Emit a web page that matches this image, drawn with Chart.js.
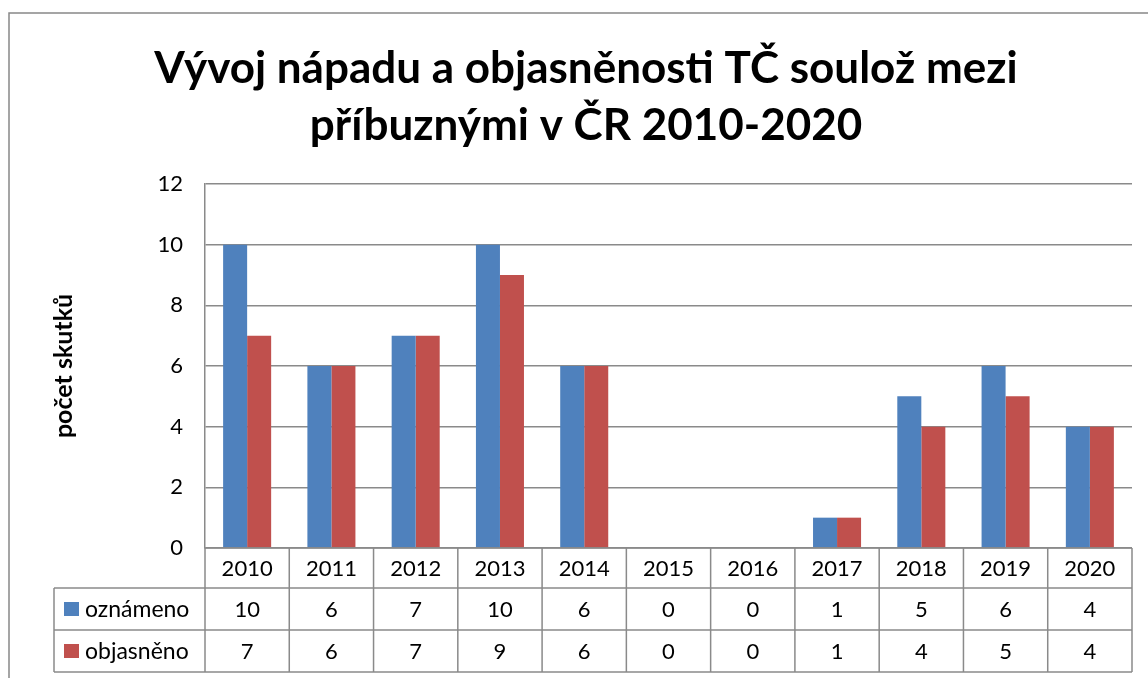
<!DOCTYPE html>
<html>
<head>
<meta charset="utf-8">
<script src="https://cdn.jsdelivr.net/npm/chart.js@4"></script>
<style>
  html, body { margin: 0; padding: 0; background: #fff; }
  canvas { display: block; }
</style>
</head>
<body>
<canvas id="chart" width="1148" height="678"></canvas>
<script>
// data
const categories = ['2010', '2011', '2012', '2013', '2014', '2015', '2016', '2017', '2018', '2019', '2020'];
const oznameno = [10, 6, 7, 10, 6, 0, 0, 1, 5, 6, 4];
const objasneno = [7, 6, 7, 9, 6, 0, 0, 1, 4, 5, 4];
const seriesNames = ['oznámeno', 'objasněno'];
const titleLines = ['Vývoj nápadu a objasněnosti TČ soulož mezi', 'příbuznými v ČR 2010-2020'];
const yAxisTitle = 'počet skutků';

const FONT = 'Lato';
const gridColor = '#8a8a8a';
const colors = ['#4F81BD', '#C0504D'];

// data table under the plot, columns follow the x scale
const dataTable = {
  id: 'dataTable',
  afterDraw(chart) {
    const { ctx, chartArea: a, scales: { x } } = chart;
    const step = x.width / categories.length;
    const top = a.bottom;
    const rows = [top, top + 40, top + 82, top + 124];
    const tableLeft = 54;
    ctx.save();
    ctx.strokeStyle = gridColor;
    ctx.lineWidth = 1.5;
    ctx.beginPath();
    ctx.moveTo(a.left, rows[0]); ctx.lineTo(a.right, rows[0]);
    for (let r = 1; r < rows.length; r++) {
      ctx.moveTo(tableLeft, rows[r]); ctx.lineTo(a.right, rows[r]);
    }
    for (let i = 0; i <= categories.length; i++) {
      const px = a.left + i * step;
      ctx.moveTo(px, rows[0]); ctx.lineTo(px, rows[3]);
    }
    ctx.moveTo(tableLeft, rows[1]); ctx.lineTo(tableLeft, rows[3]);
    ctx.stroke();

    ctx.fillStyle = '#000';
    ctx.font = '22px ' + FONT;
    ctx.textAlign = 'center';
    ctx.textBaseline = 'middle';
    const series = [oznameno, objasneno];
    categories.forEach((c, i) => {
      const cx = x.getPixelForValue(i);
      ctx.fillText(c, cx, (rows[0] + rows[1]) / 2 + 1);
      series.forEach((s, k) => ctx.fillText(String(s[i]), cx, (rows[k + 1] + rows[k + 2]) / 2 + 1));
    });
    ctx.font = '23px ' + FONT;
    seriesNames.forEach((name, k) => {
      const cy = (rows[k + 1] + rows[k + 2]) / 2;
      ctx.fillStyle = colors[k];
      ctx.fillRect(64, cy - 7, 15, 14);
      ctx.fillStyle = '#000';
      ctx.textAlign = 'left';
      ctx.fillText(name, 85, cy + 1);
    });

    // outer chart border
    ctx.strokeStyle = '#888';
    ctx.lineWidth = 1.5;
    ctx.strokeRect(9, 13, 1300, 800);
    ctx.restore();
  }
};

new Chart(document.getElementById('chart'), {
  type: 'bar',
  data: {
    labels: categories,
    datasets: [
      { label: seriesNames[0], data: oznameno, backgroundColor: colors[0], borderWidth: 0 },
      { label: seriesNames[1], data: objasneno, backgroundColor: colors[1], borderWidth: 0 }
    ]
  },
  options: {
    responsive: false,
    animation: false,
    layout: { padding: { left: 40, right: 16, top: 0, bottom: 130 } },
    datasets: { bar: { categoryPercentage: 0.57, barPercentage: 1 } },
    plugins: {
      legend: { display: false },
      tooltip: { enabled: false },
      title: {
        display: true,
        text: titleLines,
        color: '#000',
        font: { family: FONT, size: 44, weight: 'bold', lineHeight: 1.295 },
        padding: { top: 40, bottom: 30 }
      }
    },
    scales: {
      x: { display: false },
      y: {
        min: 0,
        max: 12,
        ticks: { stepSize: 2, color: '#000', padding: 22, font: { family: FONT, size: 22 } },
        grid: { color: gridColor, lineWidth: 1.5, drawTicks: false },
        border: { display: true, color: gridColor, width: 1.5 },
        title: {
          display: true,
          text: yAxisTitle,
          color: '#000',
          font: { family: FONT, size: 25, weight: 'bold', lineHeight: 1.2 },
          padding: { top: 9, bottom: 0 }
        },
        afterFit(scale) { scale.width = 165; }
      }
    }
  },
  plugins: [dataTable]
});
</script>
</body>
</html>
